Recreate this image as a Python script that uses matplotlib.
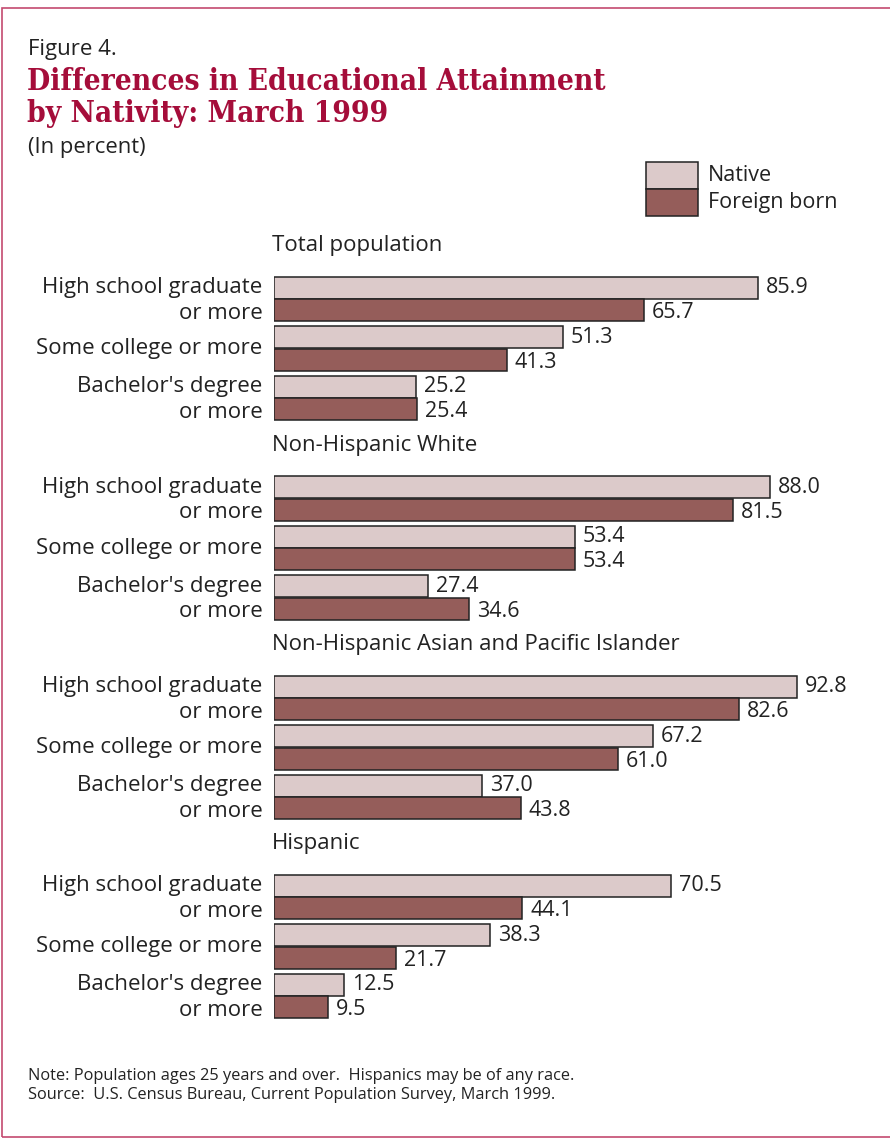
import numpy as np
import matplotlib.pyplot as plt
from matplotlib.patches import Rectangle

# data
sections = ["Total population", "Non-Hispanic White",
            "Non-Hispanic Asian and Pacific Islander", "Hispanic"]
categories = ["High school graduate\nor more", "Some college or more",
              "Bachelor's degree\nor more"]
native = [[85.9, 51.3, 25.2],
          [88.0, 53.4, 27.4],
          [92.8, 67.2, 37.0],
          [70.5, 38.3, 12.5]]
foreign = [[65.7, 41.3, 25.4],
           [81.5, 53.4, 34.6],
           [82.6, 61.0, 43.8],
           [44.1, 21.7, 9.5]]

c_native = "#dccaca"
c_foreign = "#955d5a"
c_title = "#a50d3a"
c_text = "#222222"
font = "Open Sans"

W, H = 890, 1140
fig = plt.figure(figsize=(W / 100, H / 100), dpi=100)
plt.rcParams['font.family'] = [font, 'DejaVu Sans']


def fy(py):
    return 1 - py / H


def fx(px):
    return px / W


# frame
fig.patches.append(Rectangle((fx(2), fy(1137)), fx(1000), fy(8) - fy(1137),
                             transform=fig.transFigure, fill=False,
                             edgecolor="#c44a70", linewidth=1.2))

fig.text(fx(28), fy(50), "Figure 4.", fontsize=16, va="center", color=c_text)
fig.text(fx(27), fy(82), "Differences in Educational Attainment", fontsize=21.4,
         fontweight="bold", family="DejaVu Serif", stretch="condensed",
         color=c_title, va="center")
fig.text(fx(27), fy(114), "by Nativity: March 1999", fontsize=21.4,
         fontweight="bold", family="DejaVu Serif", stretch="condensed",
         color=c_title, va="center")
fig.text(fx(28), fy(147), "(In percent)", fontsize=15.8, va="center", color=c_text)

# bars axis: x 274 -> value 0, 5.634 px per unit
x0, ppu = 274, 5.634
xmax = 110
ax = fig.add_axes([fx(x0), fy(1040), fx(xmax * ppu), fy(150) - fy(1040)])
ax.set_xlim(0, xmax)
ax.set_ylim(1040, 150)
ax.axis("off")

fs = 15.5
fs_lab = 16
bh = 22
sec_pitch, cat_pitch = 199.3, 49.5
for s, name in enumerate(sections):
    top = 277 + s * sec_pitch
    ax.text(-0.3, top - 31, name, fontsize=fs_lab, va="center", ha="left", color=c_text)
    for c, cat in enumerate(categories):
        yn = top + c * cat_pitch + bh / 2
        yf = yn + bh + 0.5
        ax.barh(yn, native[s][c], height=bh, color=c_native, edgecolor=c_text, linewidth=1.1)
        ax.barh(yf, foreign[s][c], height=bh, color=c_foreign, edgecolor=c_text, linewidth=1.1)
        ax.text(native[s][c] + 1.4, yn, f"{native[s][c]:.1f}", fontsize=fs,
                va="center", ha="left", color=c_text)
        ax.text(foreign[s][c] + 1.4, yf + 2.5, f"{foreign[s][c]:.1f}", fontsize=fs,
                va="center", ha="left", color=c_text)
        lines = cat.split("\n")
        if len(lines) == 2:
            ax.text(-2.0, yn, lines[0], fontsize=fs_lab, va="center", ha="right", color=c_text)
            ax.text(-2.0, yf + 3, lines[1], fontsize=fs_lab, va="center", ha="right", color=c_text)
        else:
            ax.text(-2.0, (yn + yf) / 2, lines[0], fontsize=fs_lab, va="center",
                    ha="right", color=c_text)

# legend
for i, (lab, col) in enumerate([("Native", c_native), ("Foreign born", c_foreign)]):
    y = 162 + i * 27
    fig.patches.append(Rectangle((fx(646), fy(y + 27)), fx(52), fy(y) - fy(y + 27),
                                 transform=fig.transFigure, facecolor=col,
                                 edgecolor=c_text, linewidth=1.1))
    fig.text(fx(708), fy(y + 13.5), lab, fontsize=15.5, va="center", color=c_text)

fig.text(fx(28), fy(1076), "Note: Population ages 25 years and over.  Hispanics may be of any race.",
         fontsize=11.8, va="center", color=c_text)
fig.text(fx(28), fy(1095), "Source:  U.S. Census Bureau, Current Population Survey, March 1999.",
         fontsize=11.8, va="center", color=c_text)

fig.savefig("out.png", dpi=100)
